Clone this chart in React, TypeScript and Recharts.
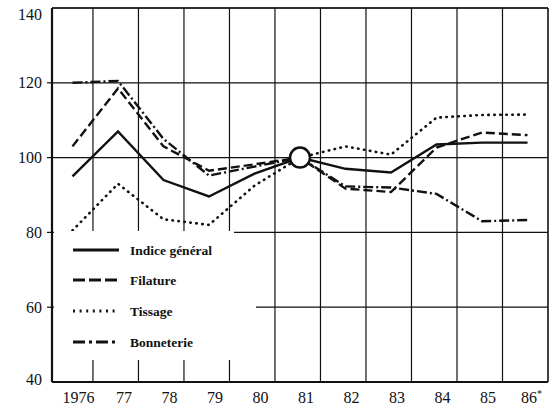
import React from "react";
import {
  LineChart,
  Line,
  XAxis,
  YAxis,
  CartesianGrid,
  ReferenceLine,
  ReferenceDot,
  Legend,
} from "recharts";

const years = ["1976", "77", "78", "79", "80", "81", "82", "83", "84", "85", "86"];
const indiceGeneral = [95, 107, 94, 89.6, 95.7, 100, 97, 96, 103.5, 104, 104];
const filature = [103, 118.5, 103, 96.5, 98.2, 100, 91.7, 90.8, 102.7, 106.7, 106];
const tissage = [80.5, 93, 83.5, 82, 92.5, 100, 103, 100.8, 110.7, 111.4, 111.5];
const bonneterie = [120, 120.5, 105, 95.2, 97.6, 100, 92.3, 92, 90.3, 83, 83.3];
const yTicks = [40, 60, 80, 100, 120, 140];
const seriesNames = ["Indice général", "Filature", "Tissage", "Bonneterie"];

const data = years.map((y, i) => ({
  i,
  year: y,
  indice: indiceGeneral[i],
  filature: filature[i],
  tissage: tissage[i],
  bonneterie: bonneterie[i],
}));

const xTicks = years.map((_, i) => i);
const gridX = years.slice(0, -1).map((_, i) => i + 0.45);

const INK = "#111";
const FONT = "'Liberation Serif', 'Times New Roman', serif";

const DASH_F = "9 4";
const DASH_T = "0.5 5.5";
const DASH_B = "10 3 2 3";

const XTick = (props: any) => {
  const { x, y, payload } = props;
  const label = years[payload.value];
  if (label === "86") {
    return (
      <text x={x + 4} y={y} dy="0.71em" textAnchor="middle" fontFamily={FONT} fontSize={16} fill={INK}>
        86
        <tspan fontSize={10} dy={-6}>*</tspan>
      </text>
    );
  }
  return (
    <text x={x + 6} y={y} dy="0.71em" textAnchor="middle" fontFamily={FONT} fontSize={16} fill={INK}>
      {label}
    </text>
  );
};

const YTick = (props: any) => {
  const { x, y, payload } = props;
  const v = payload.value;
  const off = v === 140 ? 6 : v === 40 ? -3 : 0;
  const showTick = v !== 140 && v !== 40;
  return (
    <g>
      {showTick && <line x1={x + 5} x2={x + 10} y1={y} y2={y} stroke={INK} strokeWidth={1.2} />}
      <text x={x} y={y + off} dy="0.35em" textAnchor="end" fontFamily={FONT} fontSize={16} fill={INK}>
        {v}
      </text>
    </g>
  );
};

const legendDashes = [undefined, "12 4", "2 4.6", "12 4 3 4"];
const legendCaps: ("butt" | "round")[] = ["butt", "butt", "butt", "butt"];
const legendRows = [19, 49, 80, 111];

const LegendBox = () => (
  <svg width={220} height={132} style={{ display: "block" }}>
    <polygon points="0,0 180,0 180,6 202,6 202,129 0,129" fill="#fff" />
    {seriesNames.map((name, k) => (
      <g key={name}>
        <line
          x1={19}
          x2={65}
          y1={legendRows[k]}
          y2={legendRows[k]}
          stroke={INK}
          strokeWidth={3}
          strokeDasharray={legendDashes[k]}
          strokeLinecap={legendCaps[k]}
        />
        <text
          x={76}
          y={legendRows[k]}
          dominantBaseline="central"
          fontFamily={FONT}
          fontWeight="bold"
          fontSize={13.5}
          fill={INK}
        >
          {name}
        </text>
      </g>
    ))}
  </svg>
);

export default function App() {
  return (
    <div style={{ position: "absolute", left: 0, top: 0, width: 554, height: 414, background: "#fff" }}>
      <LineChart
        width={554}
        height={414}
        data={data}
        margin={{ top: 8, right: 6, left: 0, bottom: 0 }}
      >
        <CartesianGrid vertical={false} stroke={INK} strokeWidth={1.2} />
        {gridX.map((gx) => (
          <ReferenceLine key={gx} x={gx} stroke={INK} strokeWidth={1.2} />
        ))}
        <ReferenceLine x={10.45} stroke={INK} strokeWidth={1.6} />
        <ReferenceLine y={140} stroke={INK} strokeWidth={1.6} />
        <XAxis
          type="number"
          dataKey="i"
          domain={[-0.45, 10.45]}
          ticks={xTicks}
          allowDataOverflow
          height={32}
          tickLine={false}
          tickSize={0}
          tickMargin={10}
          axisLine={{ stroke: INK, strokeWidth: 2.2 }}
          tick={<XTick />}
          interval={0}
        />
        <YAxis
          type="number"
          domain={[40, 140]}
          ticks={yTicks}
          width={52}
          tickLine={false}
          tickSize={5}
          tickMargin={5}
          axisLine={{ stroke: INK, strokeWidth: 2.2 }}
          tick={<YTick />}
          interval={0}
        />
        <Line type="linear" dataKey="tissage" stroke={INK} strokeWidth={2.6} strokeDasharray={DASH_T} strokeLinecap="round" dot={false} isAnimationActive={false} />
        <Line type="linear" dataKey="bonneterie" stroke={INK} strokeWidth={2.4} strokeDasharray={DASH_B} dot={false} isAnimationActive={false} />
        <Line type="linear" dataKey="filature" stroke={INK} strokeWidth={2.4} strokeDasharray={DASH_F} dot={false} isAnimationActive={false} />
        <Line type="linear" dataKey="indice" stroke={INK} strokeWidth={2.4} dot={false} isAnimationActive={false} />
        <ReferenceDot x={5} y={100} r={10} fill="#fff" stroke={INK} strokeWidth={2.5} />
        <Legend
          layout="vertical"
          align="center"
          verticalAlign="middle"
          content={<LegendBox />}
          wrapperStyle={{ left: 54, top: 231, width: 220, height: 132 }}
        />
      </LineChart>
    </div>
  );
}
